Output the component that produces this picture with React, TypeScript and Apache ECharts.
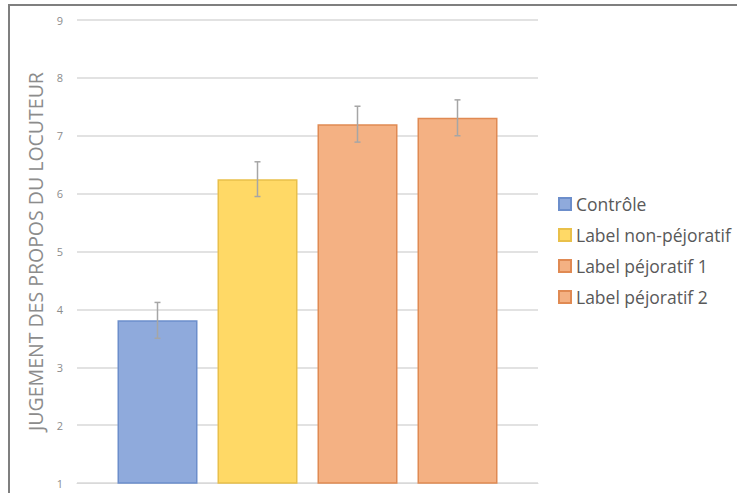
import React, { useEffect, useRef } from "react";
import * as echarts from "echarts";

const seriesNames = ["Contrôle", "Label non-péjoratif", "Label péjoratif 1", "Label péjoratif 2"];
const means = [3.81, 6.25, 7.2, 7.31];
const errors = [0.31, 0.3, 0.31, 0.31];
const fills = ["#8faadc", "#ffd966", "#f4b183", "#f4b183"];
const borders = ["#6c8ecb", "#e9c04a", "#e08a53", "#e08a53"];
const yTicks = { min: 1, max: 9, interval: 1 };
const category = ["Jugement"];

const BAR_W = 80;
const BAR_GAP = 0.25;

export default function App() {
  const ref = useRef<HTMLDivElement>(null);
  useEffect(() => {
    const chart = echarts.init(ref.current!, undefined, { renderer: "svg" });
    const barSeries = seriesNames.map((name, i) => ({
      type: "bar",
      name,
      data: [means[i]],
      barWidth: BAR_W,
      barGap: `${BAR_GAP * 100}%`,
      itemStyle: { color: fills[i], borderColor: borders[i], borderWidth: 1.5 },
    }));
    const errSeries = {
      type: "custom",
      name: "err",
      data: seriesNames.map((_, i) => [i, means[i] - errors[i], means[i] + errors[i]]),
      renderItem: (params: any, api: any) => {
        const i = api.value(0);
        const lo = api.coord([0, api.value(1)]);
        const hi = api.coord([0, api.value(2)]);
        const off = (i - (seriesNames.length - 1) / 2) * BAR_W * (1 + BAR_GAP);
        const x = lo[0] + off;
        const c = 3;
        const style = { stroke: "#a6a6a6", lineWidth: 1.5 };
        return {
          type: "group",
          children: [
            { type: "line", shape: { x1: x, y1: lo[1], x2: x, y2: hi[1] }, style },
            { type: "line", shape: { x1: x - c, y1: lo[1], x2: x + c, y2: lo[1] }, style },
            { type: "line", shape: { x1: x - c, y1: hi[1], x2: x + c, y2: hi[1] }, style },
          ],
        };
      },
      z: 10,
    };
    chart.setOption({
      animation: false,
      textStyle: { fontFamily: "Open Sans" },
      grid: { left: 77, right: 199, top: 20, bottom: 10, containLabel: false },
      xAxis: {
        type: "category",
        data: category,
        axisLine: { show: true, lineStyle: { color: "#d9d9d9" } },
        axisTick: { show: false },
        axisLabel: { show: false },
      },
      yAxis: {
        type: "value",
        min: yTicks.min,
        max: yTicks.max,
        interval: yTicks.interval,
        axisLine: { show: false },
        axisTick: { show: false },
        axisLabel: { color: "#8c8c8c", fontSize: 11, margin: 14 },
        splitLine: { lineStyle: { color: "#d9d9d9", width: 1.5 } },
        name: "JUGEMENT DES PROPOS DU LOCUTEUR",
        nameLocation: "middle",
        nameGap: 26,
        nameTextStyle: { color: "#8c8c8c", fontSize: 19.5, fontFamily: "Open Sans" },
      },
      legend: {
        data: seriesNames,
        orient: "vertical",
        left: 553,
        top: 190,
        itemWidth: 12,
        itemHeight: 12,
        itemGap: 13,
        icon: "rect",
        textStyle: { color: "#595959", fontSize: 17.5, fontFamily: "Open Sans", padding: [0, 0, 0, 0] },
      },
      graphic: [
        {
          type: "rect",
          shape: { x: 9, y: 5, width: 740, height: 500 },
          style: { fill: "none", stroke: "#7f7f7f", lineWidth: 2 },
          silent: true,
        },
      ],
      series: [...barSeries, errSeries],
    });
    return () => chart.dispose();
  }, []);
  return (
    <div
      ref={ref}
      style={{ position: "absolute", left: 0, top: 0, width: 737, height: 493, background: "#fff" }}
    />
  );
}
